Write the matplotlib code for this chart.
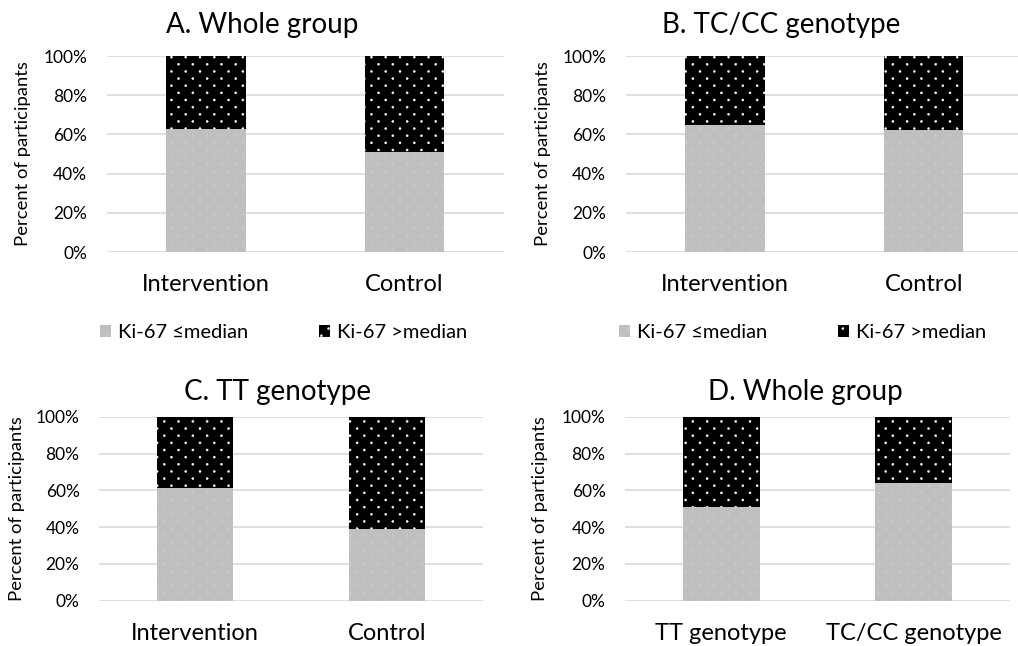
import numpy as np
import matplotlib
matplotlib.use("Agg")
import matplotlib.pyplot as plt
import matplotlib.hatch as mhatch
from matplotlib.patches import Patch
from matplotlib.path import Path

plt.rcParams['font.family'] = ['Lato', 'DejaVu Sans']
plt.rcParams['hatch.linewidth'] = 0.3

# data (percent of participants with Ki-67 <= median)
titles = ["A. Whole group", "B. TC/CC genotype", "C. TT genotype", "D. Whole group"]
groups_ab = ["Intervention", "Control"]
groups_d = ["TT genotype", "TC/CC genotype"]
low_a = [63, 51]
low_b = [65, 62.5]
low_c = [61, 39]
low_d = [51, 64]
yticks = [0, 20, 40, 60, 80, 100]
legend_labels = ["Ki-67 \u2264median", "Ki-67 >median"]

GRAY = "#bfbfbf"
GRID = "#d9d9d9"
W, H = 1018, 646


# sparser dotted fill, like the Excel "dotted" pattern (staggered rows)
class SparseDots(mhatch.HatchPatternBase):
    def __init__(self, hatch, density):
        self.n = hatch.count('.') * 7
        unit = Path.unit_circle()
        self.shape_vertices = unit.vertices * 0.0105
        self.shape_codes = unit.codes
        if self.n:
            self.num_vertices = ((self.n + 1) ** 2 + self.n ** 2) * len(self.shape_vertices)
        else:
            self.num_vertices = 0

    def set_vertices_and_codes(self, vertices, codes):
        n = self.n
        vs, cs = [], []
        for r in range(2 * n + 1):
            if r % 2 == 0:
                cols = np.linspace(0, 1, n + 1)
            else:
                cols = (np.arange(n) + 0.5) / n
            for c in cols:
                vs.append(self.shape_vertices + [c, r / (2 * n)])
                cs.append(self.shape_codes)
        np.concatenate(vs, out=vertices)
        np.concatenate(cs, out=codes)


mhatch._hatch_types = [SparseDots if t is mhatch.SmallFilledCircles else t
                       for t in mhatch._hatch_types]

fig = plt.figure(figsize=(W / 100, H / 100), dpi=100)

# axes boxes in pixels: left, top, right, bottom
boxes = [(106.5, 56, 504, 252), (625.5, 56, 1023, 252),
         (99, 416.7, 483, 600.7), (625, 416.7, 1010, 600.7)]
title_xy = [(262, 25), (781, 25), (278, 392), (805, 392)]
ylab_x = [23, 543, 17, 540]
cats = [groups_ab, groups_ab, groups_ab, groups_d]
lows = [low_a, low_b, low_c, low_d]

axes = []
for i, (l, t, r, b) in enumerate(boxes):
    ax = fig.add_axes([l / W, 1 - b / H, (r - l) / W, (b - t) / H])
    low = np.array(lows[i], dtype=float)
    high = 100 - low
    x = np.arange(len(cats[i]))
    ax.bar(x, low, width=0.4, color=GRAY, edgecolor="#cbcbcb", hatch=".",
           linewidth=0, zorder=2)
    ax.bar(x, high, bottom=low, width=0.4, color="black", edgecolor="white",
           hatch=".", linewidth=0, zorder=2)
    ax.set_xlim(-0.5, 1.5)
    ax.set_ylim(0, 100)
    ax.set_yticks(yticks)
    ax.set_yticklabels([f"{v}%" for v in yticks], fontsize=12.5)
    ax.set_xticks(x)
    ax.set_xticklabels(cats[i], fontsize=17)
    ax.tick_params(axis="y", length=0, pad=14)
    ax.tick_params(axis="x", length=0, pad=16)
    ax.yaxis.grid(True, color=GRID, linewidth=1.2, zorder=0)
    ax.set_axisbelow(True)
    for s in ax.spines.values():
        s.set_visible(False)
    ylc = (t + b) / 2
    fig.text(ylab_x[i] / W, 1 - ylc / H, "Percent of participants",
             rotation=90, ha="center", va="center", fontsize=13.3)
    fig.text(title_xy[i][0] / W, 1 - title_xy[i][1] / H, titles[i],
             ha="center", va="center", fontsize=20)
    axes.append(ax)

# legends under the top two panels
handles = [Patch(facecolor=GRAY, edgecolor="#cbcbcb", hatch=".", linewidth=0),
           Patch(facecolor="black", edgecolor="white", hatch=".", linewidth=0)]
for ax in axes[:2]:
    ax.legend(handles, legend_labels, loc="center", bbox_to_anchor=(0.445, -0.413),
              ncol=2, frameon=False, fontsize=14.5, handlelength=0.55,
              handleheight=0.55, handletextpad=0.35, columnspacing=3.5)

fig.savefig("out.png", dpi=100)
